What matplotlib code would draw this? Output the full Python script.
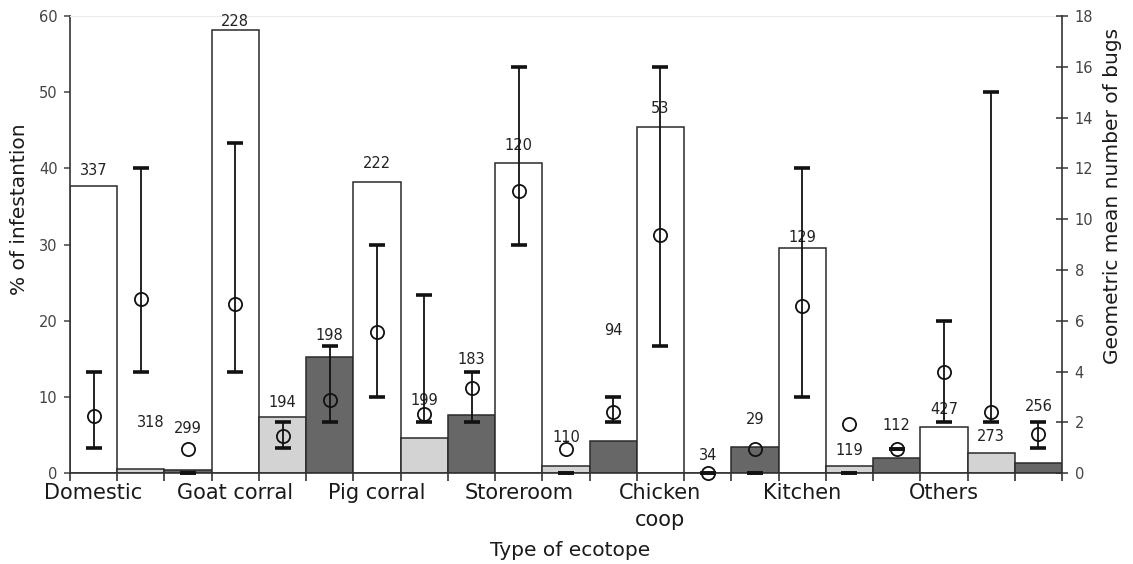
import numpy as np
import matplotlib
matplotlib.use('Agg')
import matplotlib.pyplot as plt

# ecotope groups (one label every three bars)
ecotopes = ['Domestic', 'Goat corral', 'Pig corral', 'Storeroom',
            'Chicken\ncoop', 'Kitchen', 'Others']

# % of infestation, 21 bars (white / light / dark per ecotope)
infest = [37.7, 0.6, 0.4,
          58.2, 7.4, 15.2,
          38.2, 4.6, 7.7,
          40.7, 1.0, 4.3,
          45.4, 0.0, 3.5,
          29.5, 1.0, 2.0,
          6.1, 2.7, 1.3]
# number of houses (label over each bar)
n_houses = ['337', '318', '299', '228', '194', '198', '222', '199', '183',
            '120', '110', '94', '53', '34', '29', '129', '119', '112',
            '427', '273', '256']
# label heights (left axis units)
label_y = [39.7, 6.6, 5.9, 59.3, 9.35, 18.1, 40.7, 9.6, 14.9,
           43.0, 4.7, 18.8, 47.9, 2.3, 7.0, 30.9, 3.05, 6.3,
           8.4, 4.8, 8.8]

# geometric mean number of bugs and its error range (right axis)
gmean = [2.27, 6.87, 0.94, 6.65, 1.48, 2.88, 5.57, 2.32, 3.34,
         11.12, 0.94, 2.42, 9.39, 0.0, 0.96, 6.6, 1.95, 0.95,
         4.0, 2.42, 1.55]
err_lo = [1, 4, 0, 4, 1, 2, 3, 2, 2, 9, 0, 2, 5, 0, 0, 3, 0, 0.95, 2, 2, 1]
err_hi = [4, 12, 0, 13, 2, 5, 9, 7, 4, 16, 0, 3, 16, 0, 0, 12, 0, 0.95, 6, 15, 2]

colors = ['white', '#d3d3d3', '#676767'] * 7

plt.rcParams['font.family'] = ['DejaVu Sans']

fig = plt.figure(figsize=(11.33, 5.64), dpi=100)
ax = fig.add_axes([70/1133, 1-473.3/564, 992/1133, 457.3/564])
ax2 = ax.twinx()

x = np.arange(len(infest))
ax.bar(x, infest, width=1.0, color=colors, edgecolor='#2a2a2a', linewidth=1.1, zorder=2)

for i in range(len(x)):
    dx = 0.2 if n_houses[i] == '318' else 0
    ax.text(x[i] + dx, label_y[i], n_houses[i], ha='center', va='center',
            fontsize=10.5, color='#222222', zorder=5)

ax.set_xlim(-0.5, 20.5)
ax.set_ylim(0, 60)
ax.set_yticks(range(0, 61, 10))
ax.set_xticks(np.arange(0, 21, 3))
ax.set_xticklabels(ecotopes, fontsize=15, color='#1a1a1a', linespacing=1.45)
ax.set_xticks(np.arange(-0.5, 21, 1), minor=True)
ax.tick_params(axis='x', which='major', length=0, pad=7)
ax.tick_params(axis='x', which='minor', length=6, width=1.1, direction='out', color='#222222')
ax.tick_params(axis='y', length=4, width=1.1, direction='out', labelsize=10.5,
               labelcolor='#444444', color='#444444', pad=5)
for s in ['left', 'bottom']:
    ax.spines[s].set_color('#333333')
    ax.spines[s].set_linewidth(1.2)
ax.spines['top'].set_color('#ececec')
ax.spines['right'].set_visible(False)

# right axis: geometric mean with error ranges
ax2.set_ylim(0, 18)
ax2.set_yticks(range(0, 19, 2))
for i in range(len(x)):
    ax2.vlines(x[i], err_lo[i], err_hi[i], color='#111111', linewidth=1.3, zorder=3)
ax2.plot(x, err_lo, linestyle='none', marker='_', markersize=12, markeredgewidth=2.6,
         color='#111111', clip_on=False, zorder=3)
ax2.plot(x, err_hi, linestyle='none', marker='_', markersize=12, markeredgewidth=2.6,
         color='#111111', clip_on=False, zorder=3)
ax2.plot(x, gmean, linestyle='none', marker='o', markersize=9.5, markerfacecolor='none',
         markeredgecolor='#111111', markeredgewidth=1.3, clip_on=False, zorder=4)
ax2.tick_params(axis='y', length=8, width=1.1, direction='inout', labelsize=10.5,
                labelcolor='#444444', color='#333333', pad=5)
ax2.spines['right'].set_color('#333333')
ax2.spines['right'].set_linewidth(1.2)
for s in ['left', 'top', 'bottom']:
    ax2.spines[s].set_visible(False)

fig.text(20/1133, 1-209/564, '% of infestantion', rotation=90, ha='center', va='center',
         fontsize=14.5, color='#1a1a1a')
fig.text(1113/1133, 1-196/564, 'Geometric mean number of bugs', rotation=90, ha='center',
         va='center', fontsize=14.5, color='#1a1a1a')
fig.text(570/1133, 1-550/564, 'Type of ecotope', ha='center', va='center',
         fontsize=14.5, color='#1a1a1a')

fig.savefig('out.png', dpi=100)
